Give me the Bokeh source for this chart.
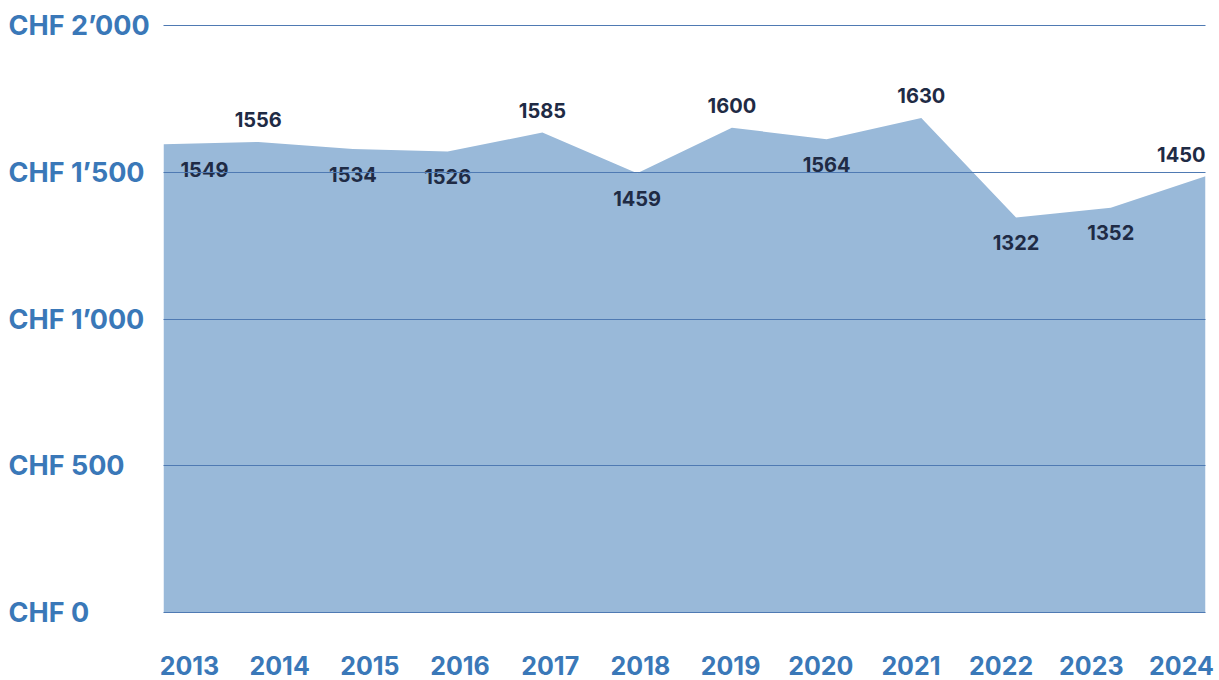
from bokeh.plotting import figure
from bokeh.models import Range1d, FixedTicker, ColumnDataSource
from bokeh.layouts import row
from bokeh.core.properties import value
from bokeh.embed import file_html
from bokeh.resources import INLINE

# ---- data ----
years = [2013, 2014, 2015, 2016, 2017, 2018, 2019, 2020, 2021, 2022, 2023, 2024]
costs = [1549, 1556, 1534, 1526, 1585, 1459, 1600, 1564, 1630, 1322, 1352, 1450]
y_ticks = [0, 500, 1000, 1500, 2000]
y_tick_labels = ["CHF 0", "CHF 500", "CHF 1\u2019000", "CHF 1\u2019500", "CHF 2\u2019000"]

FONT = "Inter"
BLUE_TXT = "#3a78b8"
DARK_TXT = "#1f2b45"
AREA = "#99b9d9"
GRID = "#4f7ab3"

H = 680
LEFT_W = 153
MAIN_W = 1066
BL, BR, BB = 10, 14, 50
FRAME_H = H - BB

# shared vertical scale (frame spans the full height above the year labels)
PPU = 0.2935
y_range = Range1d(0 - (FRAME_H - 612) / PPU, 2000 + 25 / PPU)
x_range = Range1d(2012.712, 2024.266)

p = figure(width=MAIN_W, height=H, x_range=x_range, y_range=y_range,
           output_backend="svg", toolbar_location=None, y_axis_location=None,
           min_border_left=BL, min_border_top=0, min_border_right=BR, min_border_bottom=BB,
           background_fill_color="white", border_fill_color="white")
p.outline_line_color = None

# area on its own scales (the reference's area spans the full frame width)
p.extra_x_ranges = {"area": Range1d(years[0], years[-1])}
area_y = Range1d(44.2, 1993.5)
p.extra_y_ranges = {"area": area_y}
# base of the area = main-scale zero expressed in the area scale
frac0 = (0 - y_range.start) / (y_range.end - y_range.start)
area_base = area_y.start + frac0 * (area_y.end - area_y.start)

p.varea(x=years, y1=area_base, y2=costs, fill_color=AREA, fill_alpha=1.0,
        x_range_name="area", y_range_name="area")

# value labels: above local peaks, below otherwise
above = []
for i, v in enumerate(costs):
    left_ok = i == 0 or v >= costs[i - 1]
    right_ok = i == len(costs) - 1 or v >= costs[i + 1]
    above.append(left_ok and right_ok)
offs = [-22 if a else 25 for a in above]
aligns = ["center"] * len(costs)
xoffs = [0] * len(costs)
aligns[0] = "left"; xoffs[0] = 17
aligns[-1] = "right"; xoffs[-1] = 0
src = ColumnDataSource(dict(x=years, y=costs, t=[str(c) for c in costs],
                            yo=offs, al=aligns, xo=xoffs))
p.text(x="x", y="y", text="t", source=src, x_range_name="area", y_range_name="area",
       text_font=value(FONT), text_font_style="bold", text_font_size="20px",
       text_color=DARK_TXT, text_align="al", text_baseline="middle",
       y_offset="yo", x_offset="xo")

# grid
p.xgrid.visible = False
p.ygrid.ticker = FixedTicker(ticks=y_ticks)
p.ygrid.grid_line_color = GRID
p.ygrid.grid_line_width = 1
p.ygrid.level = "overlay"

# x axis (years)
xa = p.xaxis[0]
xa.ticker = FixedTicker(ticks=years)
xa.major_label_overrides = {y: str(y) for y in years}
xa.axis_line_color = None
xa.major_tick_line_color = None
xa.minor_tick_line_color = None
xa.major_label_standoff = 19
xa.major_label_text_font = FONT
xa.major_label_text_font_style = "bold"
xa.major_label_text_font_size = "25px"
xa.major_label_text_color = BLUE_TXT

# left panel with left-aligned y tick labels, sharing the same vertical scale
pl = figure(width=LEFT_W, height=H, x_range=Range1d(0, LEFT_W), y_range=y_range,
            output_backend="svg", toolbar_location=None,
            x_axis_location=None, y_axis_location=None,
            min_border_left=0, min_border_right=0, min_border_top=0, min_border_bottom=BB,
            background_fill_color="white", border_fill_color="white")
pl.outline_line_color = None
pl.grid.visible = False
pl.text(x=[8] * len(y_ticks), y=y_ticks, text=y_tick_labels,
        text_font=value(FONT), text_font_style="bold", text_font_size="27px",
        text_color=BLUE_TXT, text_align="left", text_baseline="middle")

layout = row(pl, p)
open("out.html", "w").write(file_html(layout, INLINE))
